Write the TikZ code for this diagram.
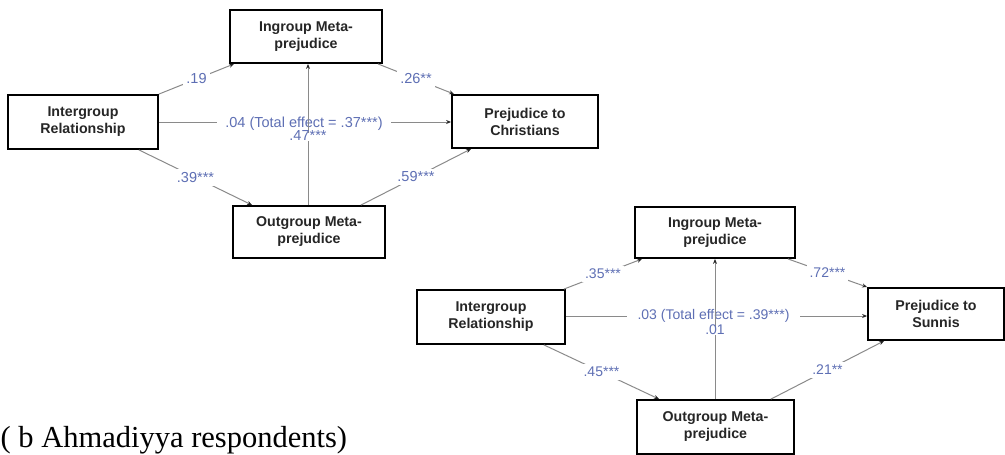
\documentclass[tikz,border=0pt]{standalone}
\usepackage{fontspec}
\setmainfont{Liberation Serif}
\newfontfamily\boxfont{Liberation Sans}
\usetikzlibrary{arrows.meta}
\definecolor{lblblue}{HTML}{5E6FB4}
\definecolor{edgegray}{HTML}{8A8A8A}
\tikzset{
  box/.style={draw=black, line width=1.8pt, fill=white, align=center,
    font=\boxfont\bfseries\fontsize{14.2}{17}\selectfont, text=black!85, inner sep=0pt},
  edge/.style={draw=edgegray, line width=1pt,
    -{Stealth[length=5pt,width=4pt,color=black!85]}},
  lbl/.style={text=lblblue, font=\boxfont\fontsize{14.5}{14.5}\selectfont,
    fill=white, inner sep=3pt},
  lblb/.style={lbl, font=\boxfont\fontsize{14}{14}\selectfont},
}
\begin{document}
\begin{tikzpicture}[x=1pt,y=-1pt]
\useasboundingbox (0,0) rectangle (1005,455);
% ---------- top diagram ----------
\node[box, minimum width=152, minimum height=53] (ig1) at (306,36.5) {Ingroup Meta-\\prejudice};
\node[box, minimum width=150, minimum height=54] (ir1) at (83,122) {Intergroup\\Relationship};
\node[box, minimum width=146, minimum height=53] (pc) at (525,121.5) {Prejudice to\\Christians};
\node[box, minimum width=152, minimum height=52] (og1) at (309,232) {Outgroup Meta-\\prejudice};

\draw[edge] (ir1.north east) -- node[lbl]{.19} ([xshift=5]ig1.south west);
\draw[edge] ([xshift=-5]ig1.south east) -- node[lbl]{.26**} ([xshift=3]pc.north west);
\draw[edge] (ir1.east) -- node[lbl, inner xsep=8pt, inner ysep=1pt, xshift=-1pt, yshift=-2pt]{.04 (Total effect = .37***)} (ir1.east -| pc.west);
\draw[edge] ([xshift=-1]og1.north) -- ([xshift=-1]og1.north |- ig1.south);
\node[lbl, inner sep=0.5pt, text height=1.45ex, text depth=0pt] (l47) at (308,137) {.47***};
\draw[edge] ([xshift=-20]ir1.south east) -- node[lbl]{.39***} ([xshift=20]og1.north west);
\draw[edge] ([xshift=-25]og1.north east) -- node[lbl]{.59***} ([xshift=20]pc.south west);

% ---------- bottom diagram ----------
\node[box, minimum width=160, minimum height=51] (ig2) at (715,232.5) {Ingroup Meta-\\prejudice};
\node[box, minimum width=148, minimum height=54] (ir2) at (491,317) {Intergroup\\Relationship};
\node[box, minimum width=136, minimum height=52] (ps) at (936,314) {Prejudice to\\Sunnis};
\node[box, minimum width=157, minimum height=54] (og2) at (715.5,427) {Outgroup Meta-\\prejudice};

\draw[edge] ([xshift=-2]ir2.north east) -- node[lblb]{.35***} ([xshift=8]ig2.south west);
\draw[edge] ([xshift=-8]ig2.south east) -- node[lblb]{.72***} (ps.north west);
\draw[edge] ([yshift=1]ir2.east) -- node[lblb, inner xsep=11pt, inner ysep=1pt, xshift=-3pt]{.03 (Total effect = .39***)} ([yshift=1]ir2.east -| ps.west);
\draw[edge] (og2.north -| ig2.south) -- (ig2.south);
\node[lblb, inner sep=0.5pt, text height=1.45ex, text depth=0pt] (l01) at (715,331) {.01};
\draw[edge] ([xshift=-22]ir2.south east) -- node[lblb]{.45***} ([xshift=23]og2.north west);
\draw[edge] ([xshift=-24]og2.north east) -- node[lblb]{.21**} ([xshift=17]ps.south west);

% caption
\node[anchor=base west, inner sep=0pt, font=\fontsize{30.5}{30.5}\selectfont] (cap) at (0.5,447) {( b Ahmadiyya respondents)};
\end{tikzpicture}
\end{document}
